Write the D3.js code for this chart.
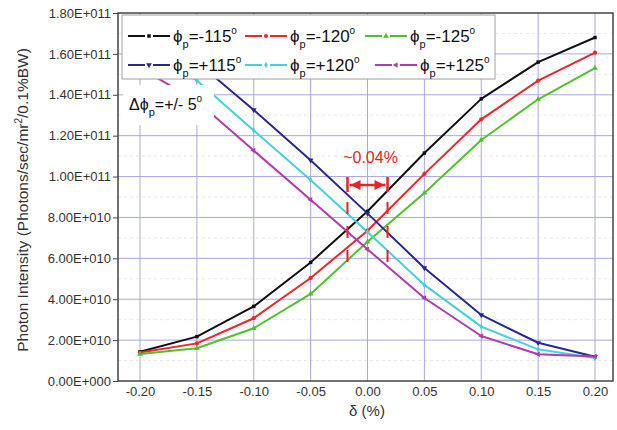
<!DOCTYPE html>
<html><head><meta charset="utf-8">
<script src="https://cdn.jsdelivr.net/npm/d3@7"></script>
<style>
html,body{margin:0;padding:0;background:#fff;}
svg{display:block;font-family:"Liberation Sans",Arial,sans-serif;}
</style></head>
<body><svg id="c" width="617" height="430"></svg>
<script>
// ---- data ----
const deltas = [-0.20, -0.15, -0.10, -0.05, 0.00, 0.05, 0.10, 0.15, 0.20];
const xTickLabels = ["-0.20","-0.15","-0.10","-0.05","0.00","0.05","0.10","0.15","0.20"];
const yTicks = [0, 2e10, 4e10, 6e10, 8e10, 1e11, 1.2e11, 1.4e11, 1.6e11, 1.8e11];
const seriesNames = ["-115", "-120", "-125", "+115", "+120", "+125"];
const phiM115 = [1.43e10, 2.17e10, 3.65e10, 5.80e10, 8.30e10, 11.15e10, 13.80e10, 15.60e10, 16.80e10];
const phiM120 = [1.39e10, 1.84e10, 3.07e10, 5.04e10, 7.35e10, 10.13e10, 12.80e10, 14.69e10, 16.06e10];
const phiM125 = [1.32e10, 1.60e10, 2.58e10, 4.26e10, 6.81e10, 9.20e10, 11.79e10, 13.78e10, 15.30e10];
const phiP115 = [16.80e10, 15.60e10, 13.26e10, 10.80e10, 8.20e10, 5.53e10, 3.23e10, 1.87e10, 1.19e10];
const phiP120 = [16.06e10, 14.70e10, 12.25e10, 9.83e10, 7.29e10, 4.70e10, 2.66e10, 1.55e10, 1.12e10];
const phiP125 = [15.30e10, 13.70e10, 11.27e10, 8.86e10, 6.44e10, 4.06e10, 2.20e10, 1.31e10, 1.20e10];
const annotationSpread = [-0.0176, 0.0176];
const annotationText = "~0.04%";

// ---- styles ----
const colors = ["#111111", "#f0262a", "#4fc22c", "#28288f", "#48d0de", "#b03cb0"];
const symbols = [d3.symbolSquare, d3.symbolCircle, d3.symbolTriangle, d3.symbolTriangle, d3.symbolDiamond, d3.symbolTriangle];
const symRot = [0, 0, 0, 180, 0, -90];
const symSize = [12, 14, 14, 14, 12, 14];
const allSeries = [phiM115, phiM120, phiM125, phiP115, phiP120, phiP125];

const svg = d3.select("#c");
const L = 118, R = 613, T = 13, B = 381;
const x = d3.scaleLinear().domain([-0.2, 0.2]).range([140, 595]);
const y = d3.scaleLinear().domain([0, 1.8e11]).range([B, T]);

function fmtE(v) {
  if (v === 0) return "0.00E+000";
  const e = Math.floor(Math.log10(v) + 1e-9);
  const m = v / Math.pow(10, e);
  return m.toFixed(2) + "E+" + String(e).padStart(3, "0");
}

// minor faint gridlines
const minor = d3.range(1e10, 1.8e11, 2e10);
svg.append("g").selectAll("line").data(minor).join("line")
  .attr("x1", L).attr("x2", R).attr("y1", d => y(d)).attr("y2", d => y(d))
  .attr("stroke", "#e6e6ee").attr("stroke-width", 1).attr("stroke-dasharray", "3,3");

// major gridlines
const grid = svg.append("g");
grid.selectAll(".gx").data(deltas).join("line")
  .attr("x1", d => x(d)).attr("x2", d => x(d)).attr("y1", T).attr("y2", B)
  .attr("stroke", "#a8a8e4").attr("stroke-width", 1);
grid.selectAll(".gy").data(yTicks.slice(1, -1)).join("line")
  .attr("x1", L).attr("x2", R).attr("y1", d => y(d)).attr("y2", d => y(d))
  .attr("stroke", "#a8a8e4").attr("stroke-width", 1);

// axes
const yAxis = d3.axisLeft(y).tickValues(yTicks).tickFormat(fmtE).tickSize(5).tickPadding(2);
const gy = svg.append("g").attr("transform", `translate(${L},0)`).call(yAxis);
gy.select(".domain").remove();
gy.selectAll("line").attr("stroke", "#444");
gy.selectAll("text").attr("font-size", 13).attr("fill", "#333").attr("font-family", '"Liberation Sans",Arial,sans-serif');

const xAxis = d3.axisBottom(x).tickValues(deltas).tickFormat((d, i) => xTickLabels[i]).tickSize(0).tickPadding(6);
const gx = svg.append("g").attr("transform", `translate(0,${B})`).call(xAxis);
gx.select(".domain").remove();
gx.selectAll("text").attr("font-size", 13).attr("fill", "#333").attr("font-family", '"Liberation Sans",Arial,sans-serif');

// lines
const line = d3.line().x((d, i) => x(deltas[i])).y(d => y(d));
const lg = svg.append("g");
allSeries.forEach((s, k) => {
  lg.append("path").attr("d", line(s)).attr("fill", "none")
    .attr("stroke", colors[k]).attr("stroke-width", 2).attr("stroke-linejoin", "round");
});
allSeries.forEach((s, k) => {
  lg.selectAll(null).data(s).join("path")
    .attr("d", d3.symbol().type(symbols[k]).size(symSize[k]))
    .attr("transform", (d, i) => `translate(${x(deltas[i])},${y(d)}) rotate(${symRot[k]})`)
    .attr("fill", colors[k]);
});

// legend
const leg = svg.append("g");
leg.append("rect").attr("x", 122).attr("y", 15).attr("width", 373).attr("height", 64)
  .attr("fill", "#fff").attr("stroke", "#a0a0a0").attr("stroke-width", 1);
const legPos = [[128, 36], [245, 36], [365, 36], [128, 65], [245, 65], [375, 65]];
seriesNames.forEach((nm, k) => {
  const [lx, ly] = legPos[k];
  const g = leg.append("g");
  g.append("line").attr("x1", lx).attr("x2", lx + 17).attr("y1", ly).attr("y2", ly).attr("stroke", colors[k]).attr("stroke-width", 2);
  g.append("line").attr("x1", lx + 25).attr("x2", lx + 42).attr("y1", ly).attr("y2", ly).attr("stroke", colors[k]).attr("stroke-width", 2);
  g.append("path").attr("d", d3.symbol().type(symbols[k]).size(symSize[k]))
    .attr("transform", `translate(${lx + 21},${ly}) rotate(${symRot[k]})`).attr("fill", colors[k]);
  const t = g.append("text").attr("x", lx + 45).attr("y", ly + 6).attr("font-size", 17).attr("fill", "#111");
  t.append("tspan").text("ϕ");
  t.append("tspan").attr("font-size", 11).attr("dy", 6).text("p");
  t.append("tspan").attr("dy", -6).text("=" + nm);
  t.append("tspan").attr("font-size", 10).attr("dy", -8).text("o");
});

// delta phi box
const db = svg.append("g");
db.append("rect").attr("x", 123).attr("y", 85).attr("width", 91).attr("height", 40).attr("fill", "#fff");
const dt = db.append("text").attr("x", 129).attr("y", 110).attr("font-size", 16).attr("fill", "#111");
dt.append("tspan").text("Δϕ");
dt.append("tspan").attr("font-size", 11).attr("dy", 6).text("p");
dt.append("tspan").attr("dy", -6).text("=+/- 5");
dt.append("tspan").attr("font-size", 10).attr("dy", -8).text("o");

// annotation
const red = "#ee2222";
const an = svg.append("g");
const ax0 = x(annotationSpread[0]), ax1 = x(annotationSpread[1]);
an.append("text").attr("x", (ax0 + ax1) / 2 + 3).attr("y", 163).attr("text-anchor", "middle")
  .attr("font-size", 16).attr("fill", red).text(annotationText);
[ax0, ax1].forEach(xx => {
  an.append("line").attr("x1", xx).attr("x2", xx).attr("y1", 177).attr("y2", 192).attr("stroke", red).attr("stroke-width", 2.5);
  an.append("line").attr("x1", xx).attr("x2", xx).attr("y1", 202).attr("y2", 270).attr("stroke", red).attr("stroke-width", 2)
    .attr("stroke-dasharray", "12,12");
});
an.append("line").attr("x1", ax0 + 2).attr("x2", ax1 - 2).attr("y1", 185).attr("y2", 185).attr("stroke", red).attr("stroke-width", 2.5);
an.append("path").attr("d", `M${ax0 + 3},185 L${ax0 + 13},180 L${ax0 + 13},190 Z`).attr("fill", red);
an.append("path").attr("d", `M${ax1 - 3},185 L${ax1 - 13},180 L${ax1 - 13},190 Z`).attr("fill", red);

// frame
svg.append("rect").attr("x", L).attr("y", T).attr("width", R - L).attr("height", B - T)
  .attr("fill", "none").attr("stroke", "#444").attr("stroke-width", 1.5);

// axis titles
svg.append("text").attr("x", 367).attr("y", 416).attr("text-anchor", "middle")
  .attr("font-size", 15).attr("fill", "#333").text("δ (%)");
const yt = svg.append("text").attr("transform", "translate(28,200) rotate(-90)").attr("text-anchor", "middle")
  .attr("font-size", 15.5).attr("fill", "#333");
yt.append("tspan").text("Photon Intensity (Photons/sec/mr");
yt.append("tspan").attr("font-size", 10).attr("dy", -6).text("2");
yt.append("tspan").attr("dy", 6).text("/0.1%BW)");
</script></body></html>
